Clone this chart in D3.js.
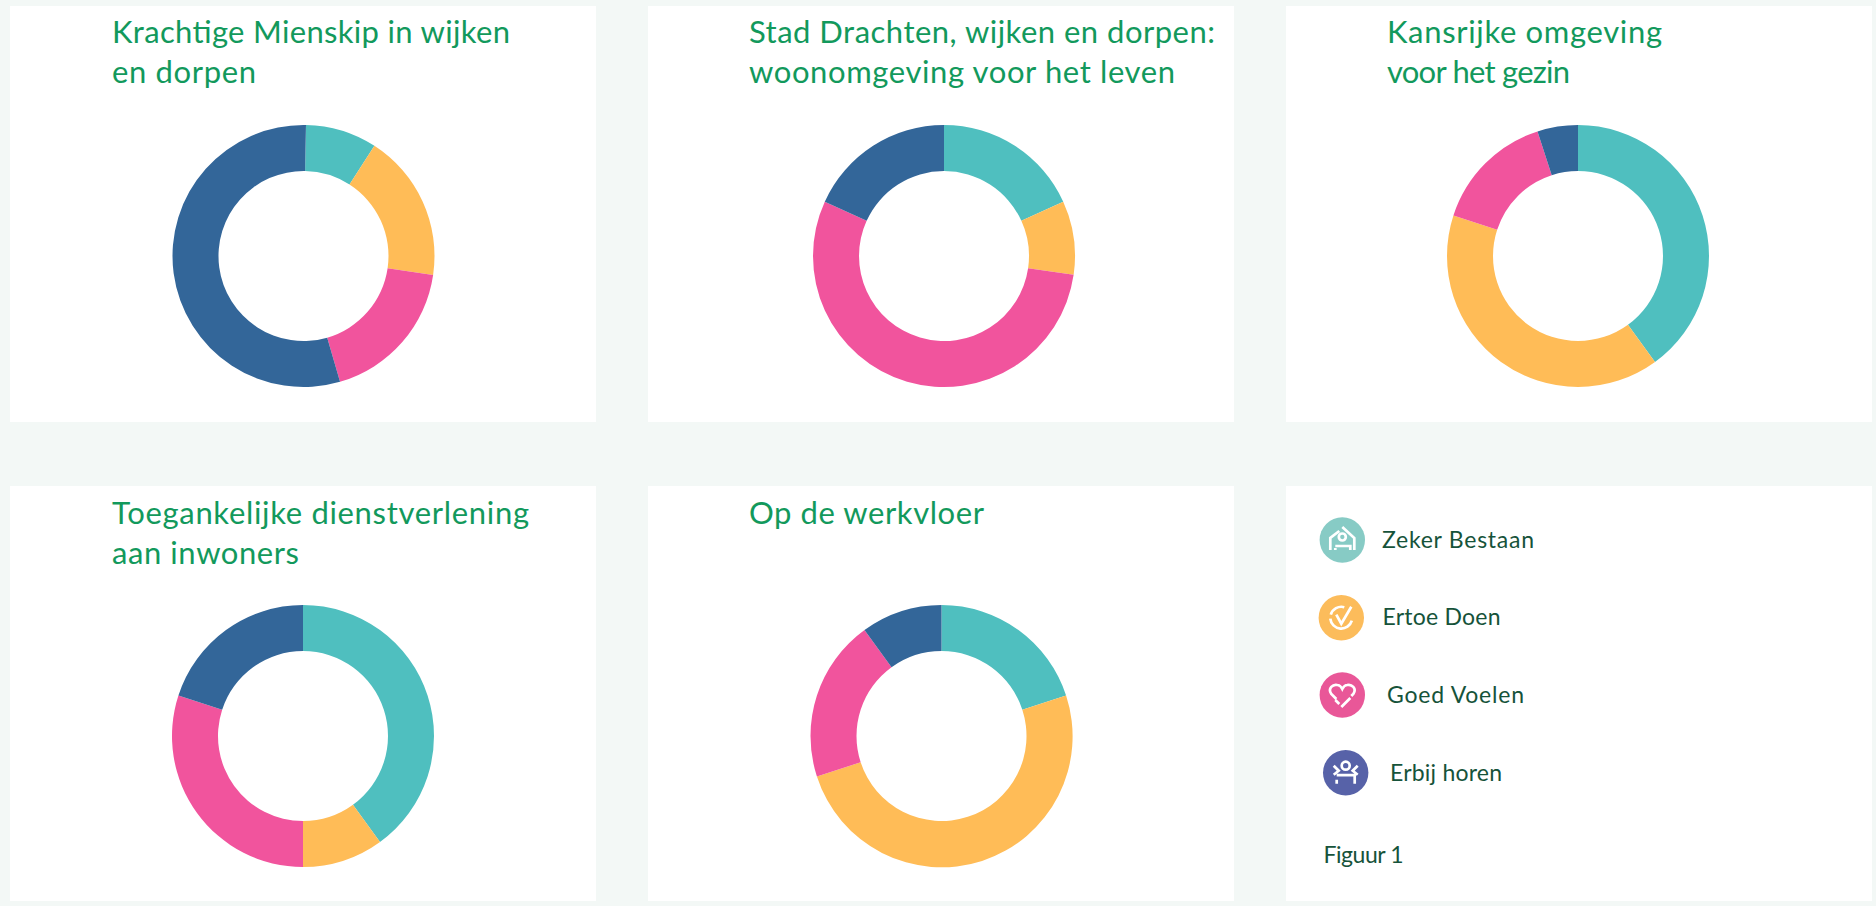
<!DOCTYPE html>
<html>
<head>
<meta charset="utf-8">
<script src="https://cdn.jsdelivr.net/npm/d3@7"></script>
<style>
    html, body { margin: 0; padding: 0; background: #f3f8f6; overflow: hidden; }
    text { font-family: "Lato", "Open Sans", sans-serif; }
    .title { fill: #12995c; font-size: 31px; }
    .legend_label { fill: #16533a; font-size: 23px; }
    .icon_line { fill: none; stroke: #fff; stroke-width: 2.7; stroke-linecap: butt; }
</style>
</head>
<body>
<div id="chart"></div>
<script>
// share of each theme per panel
const themes = ["Zeker Bestaan", "Ertoe Doen", "Goed Voelen", "Erbij horen"]
const panelTitles = [
    ["Krachtige Mienskip in wijken", "en dorpen"],
    ["Stad Drachten, wijken en dorpen:", "woonomgeving voor het leven"],
    ["Kansrijke omgeving", "voor het gezin"],
    ["Toegankelijke dienstverlening", "aan inwoners"],
    ["Op de werkvloer"]
]
const krachtigeMienskip = [8.8, 18.2, 18.2, 54.8]
const stadDrachten = [18.2, 9.1, 54.5, 18.2]
const kansrijkeOmgeving = [40, 40, 15, 5]
const dienstverlening = [40, 10, 30, 20]
const werkvloer = [20, 50, 20, 10]
const panelValues = [krachtigeMienskip, stadDrachten, kansrijkeOmgeving, dienstverlening, werkvloer]

const donutColours = ["#4fbfbf", "#ffbc57", "#f1549d", "#336699"]
const legendColours = ["#87cbc5", "#fcbc5b", "#e95798", "#5762a8"]

const width = 1876
const height = 906

const svg = d3.select("#chart")
    .append("svg")
    .attr("width", width)
    .attr("height", height)
    .style("display", "block")

// white cards, 3 x 2
const cards = [
    { x: 10, y: 6 }, { x: 648, y: 6 }, { x: 1286, y: 6 },
    { x: 10, y: 486 }, { x: 648, y: 486 }, { x: 1286, y: 486 }
]

svg.selectAll(".card")
    .data(cards)
    .join("rect")
    .attr("class", "card")
    .attr("x", d => d.x)
    .attr("y", d => d.y)
    .attr("width", 586)
    .attr("height", (d, i) => i < 3 ? 416 : 415)
    .attr("fill", "#fff")

const donutCentres = [[303.5, 256], [944, 256], [1578, 256], [303, 736], [941.5, 736]]
// first panel starts a hair past twelve o'clock in the original
const startAngles = [0.019, 0, 0, 0, 0]
const titleX = [112, 749, 1387, 112, 749]
const titleY = [43, 43, 43, 524, 524]
// the original font is wider than Lato, so stretch the lines to the same length
const titleWidths = [[398, 144], [466, 426], [275, 183], [417, 187], [235]]

const arc = d3.arc().innerRadius(85).outerRadius(131)

panelValues.forEach(function(values, i) {
    const pie = d3.pie()
        .sort(null)
        .startAngle(startAngles[i])
        .endAngle(startAngles[i] + 2 * Math.PI)

    const g = svg.append("g")
        .attr("transform", `translate(${donutCentres[i][0]},${donutCentres[i][1]})`)

    g.selectAll("path")
        .data(pie(values))
        .join("path")
        .attr("d", arc)
        .attr("fill", (d, j) => donutColours[j])

    svg.selectAll(".title_" + i)
        .data(panelTitles[i])
        .join("text")
        .attr("class", "title title_" + i)
        .attr("x", titleX[i])
        .attr("y", (d, j) => titleY[i] + j * 39.5)
        .attr("textLength", (d, j) => titleWidths[i][j])
        .text(d => d)
})

// legend
const legendCircles = [[1342.3, 540], [1341.3, 617.7], [1342.3, 695], [1345.7, 772.7]]
const legendText = [[1382, 548], [1382.5, 625], [1387, 703], [1390, 781]]
const legendWidths = [152, 118, 137, 112]

// small line icons, drawn round the centre of each circle
const iconPaths = [
    "M-12,10V-2L-3,-9 M0,-13L12,-2V10 M3.5,-3A3.5,3.5 0 1 1 -3.5,-3A3.5,3.5 0 1 1 3.5,-3 M-7,6H8V10 M-7,8V10",
    "M3,-10.5A11,11 0 0 0 -10.5,-3 M-11,1A11,11 0 0 0 10.5,3 M-5,-3L0,6L10,-11",
    "M-6,4L-11,-1C-15,-7 -9,-11 -5,-10C-3,-10 -1,-8 0,-6C1,-8 3,-10 5,-10C9,-11 15,-7 11,-1L9,1 M-7,5L-3,9 M-1,12L8,3",
    "M4,-7A4,4 0 1 1 -4,-7A4,4 0 1 1 4,-7 M-9,2.5H9V11 M-9,7V11 M-12,-7L-7,-2L-12,2 M12,-7L7,-2L12,2"
]

themes.forEach(function(theme, i) {
    const item = svg.append("g")

    item.append("circle")
        .attr("cx", legendCircles[i][0])
        .attr("cy", legendCircles[i][1])
        .attr("r", 22.7)
        .attr("fill", legendColours[i])

    item.append("path")
        .attr("class", "icon_line")
        .attr("transform", `translate(${legendCircles[i][0]},${legendCircles[i][1]})`)
        .attr("d", iconPaths[i])

    item.append("text")
        .attr("class", "legend_label")
        .attr("x", legendText[i][0])
        .attr("y", legendText[i][1])
        .attr("textLength", legendWidths[i])
        .text(theme)
})

svg.append("text")
    .attr("class", "legend_label")
    .attr("x", 1323.5)
    .attr("y", 863)
    .attr("textLength", 80)
    .text("Figuur 1")
</script>
</body>
</html>
